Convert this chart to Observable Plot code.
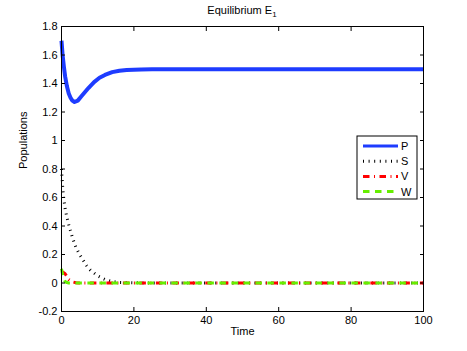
<!DOCTYPE html>
<html>
<head>
<meta charset="utf-8">
<script src="https://cdn.jsdelivr.net/npm/d3@7"></script>
<script src="https://cdn.jsdelivr.net/npm/@observablehq/plot@0.6"></script>
<style>
  html, body { margin: 0; padding: 0; background: white; }
  #chart { position: relative; width: 467px; height: 351px; }
</style>
</head>
<body>
<div id="chart"></div>
<script>
// ---- data ----
const titleMain = "Equilibrium E";
const titleSub = "1";
const xLabel = "Time";
const yLabel = "Populations";
const xTicks = [0, 20, 40, 60, 80, 100];
const yTicks = [-0.2, 0, 0.2, 0.4, 0.6, 0.8, 1, 1.2, 1.4, 1.6, 1.8];
const seriesNames = ["P", "S", "V", "W"];

const tP = [0, 0.3, 0.65, 1, 1.5, 2, 2.5, 3, 3.6, 4.5, 5.5, 6.5, 7.5, 9, 10.5, 12, 14, 16, 18, 20, 22, 25, 30, 40, 60, 80, 100];
const P  = [1.70, 1.60, 1.52, 1.45, 1.38, 1.33, 1.30, 1.28, 1.27, 1.28, 1.31, 1.34, 1.37, 1.41, 1.44, 1.46, 1.48, 1.49, 1.495, 1.497, 1.499, 1.5, 1.5, 1.5, 1.5, 1.5, 1.5];

const tS = [0, 0.25, 0.5, 1, 1.5, 2, 3, 4, 5, 6, 7, 8, 10, 12, 14, 16, 20, 30, 50, 70, 100];
const S  = [0.80, 0.70, 0.62, 0.52, 0.46, 0.41, 0.32, 0.25, 0.20, 0.16, 0.12, 0.09, 0.05, 0.025, 0.01, 0.004, 0.001, 0, 0, 0, 0];

const tV = [0, 0.5, 1, 1.5, 2, 3, 4, 5, 10, 30, 60, 100];
const V  = [0.08, 0.075, 0.065, 0.045, 0.025, 0.008, 0.002, 0, 0, 0, 0, 0];

const tW = [0, 0.3, 0.6, 1, 1.5, 2, 5, 30, 60, 100];
const W  = [0.10, 0.06, 0.03, 0.01, 0.003, 0, 0, 0, 0, 0];

// ---- styles ----
const styles = {
  P: {stroke: "#1e3cff", strokeWidth: 4, dash: null},
  S: {stroke: "#000000", strokeWidth: 3, dash: "1,4.6"},
  V: {stroke: "#ff0000", strokeWidth: 3, dash: "6.5,4.5,1,4.5"},
  W: {stroke: "#66ee00", strokeWidth: 3, dash: "6.5,5.5"}
};

const toRows = (ts, vs) => ts.map((t, i) => ({t, v: vs[i]}));
const seriesData = {P: toRows(tP, P), S: toRows(tS, S), V: toRows(tV, V), W: toRows(tW, W)};

const fmt = d => String(+d.toFixed(1));

const lineMarks = seriesNames.map(name => Plot.line(seriesData[name], {
  x: "t", y: "v",
  stroke: styles[name].stroke,
  strokeWidth: styles[name].strokeWidth,
  strokeDasharray: styles[name].dash,
  strokeLinecap: "butt",
  strokeLinejoin: "round"
}));

const chart = Plot.plot({
  width: 467,
  height: 351,
  marginLeft: 61,
  marginRight: 44,
  marginTop: 26,
  marginBottom: 40,
  style: {fontFamily: "'Liberation Sans', Arial, Helvetica, sans-serif", fontSize: "11px", background: "white", color: "black"},
  x: {domain: [0, 100]},
  y: {domain: [-0.2, 1.8]},
  marks: [
    ...lineMarks,
    Plot.frame({stroke: "black"}),
    // inward ticks on all four sides
    Plot.axisX(xTicks, {anchor: "bottom", tickSize: 4, dy: -4, fill: "none", label: null}),
    Plot.axisX(xTicks, {anchor: "top", tickSize: 4, dy: 4, fill: "none", label: null}),
    Plot.axisY(yTicks, {anchor: "left", tickSize: 4, dx: 4, fill: "none", label: null}),
    Plot.axisY(yTicks, {anchor: "right", tickSize: 4, dx: -4, fill: "none", label: null}),
    // tick labels
    Plot.axisX(xTicks, {anchor: "bottom", tickSize: 0, tickPadding: 5, tickFormat: fmt, label: null}),
    Plot.axisY(yTicks, {anchor: "left", tickSize: 0, tickPadding: 4, tickFormat: fmt, label: null}),
    // axis titles
    Plot.text([xLabel], {text: d => d, frameAnchor: "bottom", dy: 23, fontSize: 11}),
    Plot.text([yLabel], {text: d => d, frameAnchor: "left", dx: -38, rotate: -90, fontSize: 11})
  ]
});

document.getElementById("chart").appendChild(chart);

// title with subscript
const svg = d3.select(chart);
const title = svg.append("text")
  .attr("x", 242).attr("y", 14)
  .attr("text-anchor", "middle")
  .attr("font-size", 11)
  .attr("fill", "black");
title.append("tspan").text(titleMain);
title.append("tspan").attr("font-size", 8).attr("dy", 3).text(titleSub);

// legend
const lg = svg.append("g").attr("transform", "translate(357,136)");
lg.append("rect").attr("width", 60).attr("height", 63).attr("fill", "white").attr("stroke", "black").attr("stroke-width", 1);
seriesNames.forEach((name, i) => {
  const y = 10 + i * 15.2;
  lg.append("line")
    .attr("x1", 6).attr("x2", 41).attr("y1", y).attr("y2", y)
    .attr("stroke", styles[name].stroke)
    .attr("stroke-width", name === "P" ? 3 : styles[name].strokeWidth)
    .attr("stroke-dasharray", styles[name].dash)
    .attr("stroke-linecap", "butt");
  lg.append("text")
    .attr("x", 44).attr("y", y + 4)
    .attr("text-anchor", "start")
    .attr("font-size", 11)
    .attr("fill", "black")
    .text(name);
});
</script>
</body>
</html>
